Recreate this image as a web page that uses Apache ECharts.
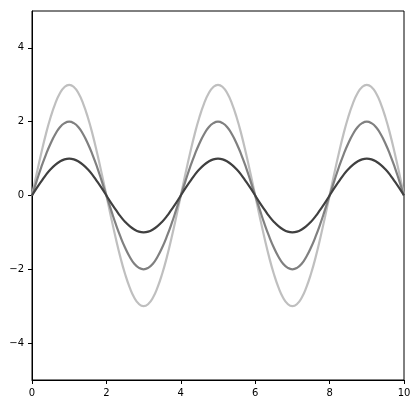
<!DOCTYPE html>
<html>
<head>
<meta charset="utf-8">
<script src="https://cdn.jsdelivr.net/npm/echarts@6/dist/echarts.min.js"></script>
<style>
  html, body { margin: 0; padding: 0; background: #fff; }
  #chart { width: 419px; height: 406px; }
</style>
</head>
<body>
<div id="chart"></div>
<script>
// x positions, step 0.125 from 0 to 10
var xValues = [0,0.125,0.25,0.375,0.5,0.625,0.75,0.875,1,1.125,1.25,1.375,1.5,1.625,1.75,1.875,
  2,2.125,2.25,2.375,2.5,2.625,2.75,2.875,3,3.125,3.25,3.375,3.5,3.625,3.75,3.875,
  4,4.125,4.25,4.375,4.5,4.625,4.75,4.875,5,5.125,5.25,5.375,5.5,5.625,5.75,5.875,
  6,6.125,6.25,6.375,6.5,6.625,6.75,6.875,7,7.125,7.25,7.375,7.5,7.625,7.75,7.875,
  8,8.125,8.25,8.375,8.5,8.625,8.75,8.875,9,9.125,9.25,9.375,9.5,9.625,9.75,9.875,10];

var waveSmall = [0,0.2,0.38,0.56,0.71,0.83,0.92,0.98,1,0.98,0.92,0.83,0.71,0.56,0.38,0.2,
  0,-0.2,-0.38,-0.56,-0.71,-0.83,-0.92,-0.98,-1,-0.98,-0.92,-0.83,-0.71,-0.56,-0.38,-0.2,
  0,0.2,0.38,0.56,0.71,0.83,0.92,0.98,1,0.98,0.92,0.83,0.71,0.56,0.38,0.2,
  0,-0.2,-0.38,-0.56,-0.71,-0.83,-0.92,-0.98,-1,-0.98,-0.92,-0.83,-0.71,-0.56,-0.38,-0.2,
  0,0.2,0.38,0.56,0.71,0.83,0.92,0.98,1,0.98,0.92,0.83,0.71,0.56,0.38,0.2,0];
var waveMid = [0,0.39,0.77,1.11,1.41,1.66,1.85,1.96,2,1.96,1.85,1.66,1.41,1.11,0.77,0.39,
  0,-0.39,-0.77,-1.11,-1.41,-1.66,-1.85,-1.96,-2,-1.96,-1.85,-1.66,-1.41,-1.11,-0.77,-0.39,
  0,0.39,0.77,1.11,1.41,1.66,1.85,1.96,2,1.96,1.85,1.66,1.41,1.11,0.77,0.39,
  0,-0.39,-0.77,-1.11,-1.41,-1.66,-1.85,-1.96,-2,-1.96,-1.85,-1.66,-1.41,-1.11,-0.77,-0.39,
  0,0.39,0.77,1.11,1.41,1.66,1.85,1.96,2,1.96,1.85,1.66,1.41,1.11,0.77,0.39,0];
var waveBig = [0,0.59,1.15,1.67,2.12,2.49,2.77,2.94,3,2.94,2.77,2.49,2.12,1.67,1.15,0.59,
  0,-0.59,-1.15,-1.67,-2.12,-2.49,-2.77,-2.94,-3,-2.94,-2.77,-2.49,-2.12,-1.67,-1.15,-0.59,
  0,0.59,1.15,1.67,2.12,2.49,2.77,2.94,3,2.94,2.77,2.49,2.12,1.67,1.15,0.59,
  0,-0.59,-1.15,-1.67,-2.12,-2.49,-2.77,-2.94,-3,-2.94,-2.77,-2.49,-2.12,-1.67,-1.15,-0.59,
  0,0.59,1.15,1.67,2.12,2.49,2.77,2.94,3,2.94,2.77,2.49,2.12,1.67,1.15,0.59,0];

var yTicks = [-4, -2, 0, 2, 4];

function pairs(ys){
    return xValues.map(function(x, i){ return [x, ys[i]]; });
}
function fmt(v){
    return String(v).replace('-', '\u2212');
}

var myChart = echarts.init(document.getElementById('chart'));
var labelStyle = { color: '#000', fontSize: 10, fontFamily: 'DejaVu Sans', formatter: fmt };
var lineStyleAxis = { show: true, onZero: false, lineStyle: { color: '#000', width: 1 } };
var tickStyle = { show: true, inside: false, length: 4, lineStyle: { color: '#000' } };

myChart.setOption({
    animation: false,
    backgroundColor: '#fff',
    grid: {
        left: 32, right: 15, top: 11, bottom: 26,
        show: true, borderColor: '#000', borderWidth: 1
    },
    xAxis: {
        type: 'value', min: 0, max: 10, interval: 2,
        axisLine: lineStyleAxis,
        axisTick: tickStyle,
        axisLabel: Object.assign({}, labelStyle, { margin: 8 }),
        splitLine: { show: false }
    },
    yAxis: {
        type: 'value', min: -5, max: 5,
        axisLine: lineStyleAxis,
        axisTick: Object.assign({}, tickStyle, { customValues: yTicks }),
        axisLabel: Object.assign({}, labelStyle, { margin: 8, customValues: yTicks }),
        splitLine: { show: false }
    },
    series: [
        { type: 'line', data: pairs(waveBig), smooth: true, symbol: 'none',
          lineStyle: { color: '#bfbfbf', width: 2.2 } },
        { type: 'line', data: pairs(waveMid), smooth: true, symbol: 'none',
          lineStyle: { color: '#808080', width: 2.2 } },
        { type: 'line', data: pairs(waveSmall), smooth: true, symbol: 'none',
          lineStyle: { color: '#404040', width: 2.2 } }
    ]
});
</script>
</body>
</html>
